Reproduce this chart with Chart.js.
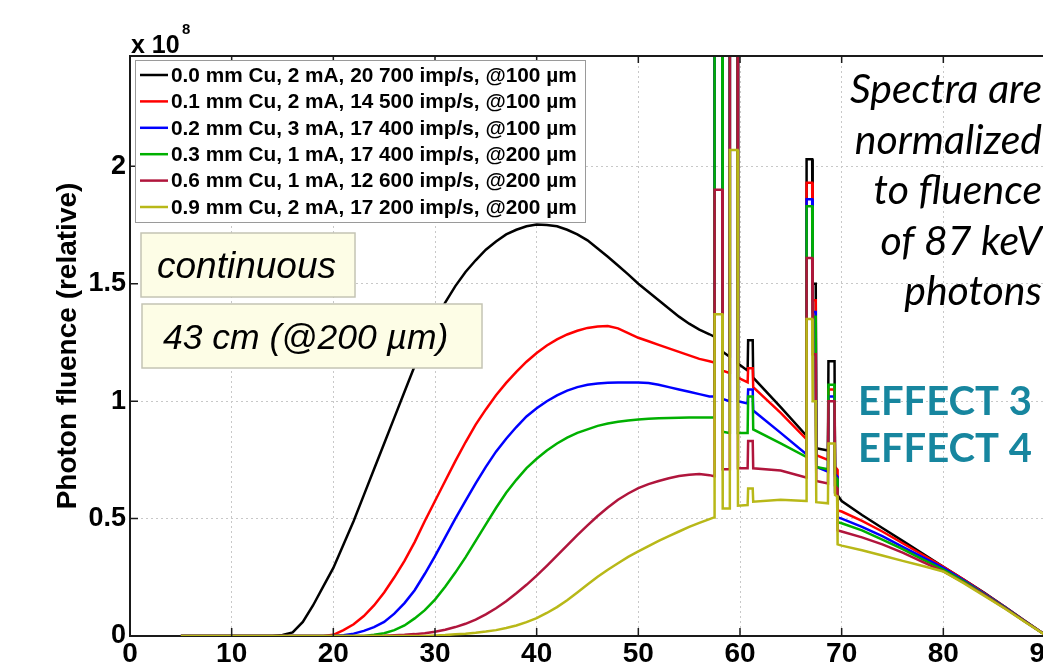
<!DOCTYPE html>
<html>
<head>
<meta charset="utf-8">
<title>Photon fluence spectra</title>
<script src="https://cdn.jsdelivr.net/npm/chart.js@4.4.1/dist/chart.umd.min.js"></script>
<style>
  html, body { margin: 0; padding: 0; background: #fff; overflow: hidden; }
  #wrap { position: absolute; left: 0; top: 0; width: 1100px; height: 665px; }
</style>
</head>
<body>
<div id="wrap"><canvas id="spectra" width="1100" height="665"></canvas></div>
<script>
// photon energy (keV), shared by all spectra
const energy = [5, 10, 14, 15, 16, 17, 18, 19, 20, 21, 22, 23, 24, 25, 26, 27, 28, 29,
  30, 31, 32, 33, 34, 35, 36, 37, 38, 39, 40, 41, 42, 43, 44, 45, 46, 47, 48, 49,
  50, 51, 52, 53, 54, 55, 56, 57,
  57.45, 57.5, 58.25, 58.3, 58.95, 59, 59.75, 59.8, 60.75, 60.8, 61.25, 61.3, 64, 66.5,
  66.55, 67.1, 67.15, 67.45, 67.5, 68.65, 68.7, 69.3, 69.35, 69.55, 69.6,
  70, 72, 74, 76, 78, 80, 82, 84, 86, 88, 90];

// relative photon fluence (x 1e8)
const cu00 = [0, 0, 0, 0.004, 0.015, 0.06, 0.13, 0.21, 0.29, 0.39, 0.49, 0.60, 0.71, 0.82, 0.93, 1.04, 1.15, 1.25,
  1.34, 1.42, 1.49, 1.55, 1.60, 1.645, 1.68, 1.71, 1.73, 1.745, 1.752, 1.75, 1.745, 1.73, 1.71, 1.685, 1.65, 1.615, 1.578, 1.54,
  1.50, 1.465, 1.43, 1.395, 1.36, 1.33, 1.305, 1.285,
  1.275, 2.7, 2.7, 1.21, 1.19, 2.7, 2.7, 1.16, 1.13, 1.26, 1.26, 1.10, 0.975, 0.855,
  2.03, 2.03, 1.5, 1.5, 0.80, 0.79, 1.17, 1.17, 0.61, 0.605, 0.60,
  0.575, 0.515, 0.46, 0.405, 0.35, 0.295, 0.24, 0.185, 0.125, 0.065, 0.005];
const cu01 = [0, 0, 0, 0, 0, 0, 0, 0, 0.005, 0.025, 0.05, 0.085, 0.13, 0.185, 0.25, 0.32, 0.40, 0.49,
  0.575, 0.66, 0.745, 0.825, 0.90, 0.965, 1.025, 1.078, 1.125, 1.168, 1.205, 1.237, 1.263, 1.284, 1.30, 1.312, 1.318, 1.32, 1.31, 1.29,
  1.27, 1.255, 1.24, 1.225, 1.21, 1.195, 1.18, 1.17,
  1.165, 2.7, 2.7, 1.13, 1.12, 2.7, 2.7, 1.10, 1.08, 1.14, 1.14, 1.06, 0.95, 0.84,
  1.93, 1.93, 1.43, 1.43, 0.77, 0.75, 1.05, 1.05, 0.72, 0.71, 0.535,
  0.53, 0.49, 0.445, 0.395, 0.345, 0.295, 0.24, 0.183, 0.125, 0.065, 0.005];
const cu02 = [0, 0, 0, 0, 0, 0, 0, 0, 0, 0.003, 0.01, 0.022, 0.038, 0.06, 0.095, 0.14, 0.195, 0.265,
  0.34, 0.42, 0.50, 0.575, 0.65, 0.72, 0.785, 0.84, 0.89, 0.935, 0.97, 1.0, 1.025, 1.045, 1.06, 1.07, 1.075, 1.078, 1.08, 1.08,
  1.08, 1.077, 1.07, 1.06, 1.05, 1.04, 1.03, 1.02,
  1.02, 2.7, 2.7, 1.01, 1.0, 2.7, 2.7, 1.0, 0.99, 1.05, 1.05, 0.96, 0.865, 0.775,
  1.86, 1.86, 1.38, 1.38, 0.72, 0.70, 1.02, 1.02, 0.69, 0.68, 0.505,
  0.50, 0.465, 0.425, 0.38, 0.335, 0.29, 0.237, 0.181, 0.124, 0.064, 0.005];
const cu03 = [0, 0, 0, 0, 0, 0, 0, 0, 0, 0, 0, 0, 0.005, 0.012, 0.025, 0.045, 0.075, 0.11,
  0.155, 0.21, 0.27, 0.335, 0.405, 0.475, 0.545, 0.61, 0.665, 0.715, 0.755, 0.79, 0.82, 0.845, 0.865, 0.88, 0.895, 0.905, 0.912, 0.918,
  0.922, 0.925, 0.927, 0.928, 0.929, 0.93, 0.93, 0.93,
  0.93, 2.7, 2.7, 0.87, 0.865, 2.7, 2.7, 0.865, 0.865, 1.02, 1.02, 0.88, 0.82, 0.763,
  1.83, 1.83, 1.36, 1.36, 0.72, 0.71, 1.07, 1.07, 0.68, 0.67, 0.485,
  0.48, 0.45, 0.41, 0.37, 0.325, 0.283, 0.233, 0.178, 0.122, 0.063, 0.005];
const cu06 = [0, 0, 0, 0, 0, 0, 0, 0, 0, 0, 0, 0, 0, 0.001, 0.003, 0.005, 0.008, 0.012,
  0.018, 0.027, 0.038, 0.052, 0.07, 0.092, 0.118, 0.148, 0.182, 0.218, 0.257, 0.299, 0.342, 0.386, 0.43, 0.471, 0.511, 0.547, 0.58, 0.607,
  0.63, 0.647, 0.66, 0.672, 0.681, 0.687, 0.69, 0.685,
  0.68, 1.9, 1.9, 0.71, 0.71, 2.7, 2.7, 0.714, 0.714, 0.83, 0.83, 0.714, 0.705, 0.675,
  1.61, 1.61, 1.2, 1.2, 0.66, 0.65, 1.0, 1.0, 0.64, 0.63, 0.45,
  0.445, 0.42, 0.39, 0.355, 0.315, 0.275, 0.228, 0.175, 0.12, 0.062, 0.005];
const cu09 = [0, 0, 0, 0, 0, 0, 0, 0, 0, 0, 0, 0, 0, 0, 0, 0, 0, 0,
  0.002, 0.004, 0.007, 0.01, 0.014, 0.019, 0.025, 0.034, 0.045, 0.059, 0.076, 0.098, 0.123, 0.152, 0.185, 0.219, 0.252, 0.282, 0.31, 0.337,
  0.36, 0.383, 0.405, 0.425, 0.445, 0.465, 0.482, 0.498,
  0.505, 1.37, 1.37, 0.543, 0.543, 2.07, 2.07, 0.555, 0.558, 0.628, 0.628, 0.572, 0.58, 0.575,
  1.35, 1.35, 1.0, 1.0, 0.57, 0.565, 0.82, 0.82, 0.6, 0.595, 0.39,
  0.385, 0.365, 0.343, 0.32, 0.298, 0.275, 0.225, 0.172, 0.118, 0.061, 0.005];

const seriesLabels = [
  '0.0 mm Cu, 2 mA, 20 700 imp/s, @100 \u00b5m',
  '0.1 mm Cu, 2 mA, 14 500 imp/s, @100 \u00b5m',
  '0.2 mm Cu, 3 mA, 17 400 imp/s, @100 \u00b5m',
  '0.3 mm Cu, 1 mA, 17 400 imp/s, @200 \u00b5m',
  '0.6 mm Cu, 1 mA, 12 600 imp/s, @200 \u00b5m',
  '0.9 mm Cu, 2 mA, 17 200 imp/s, @200 \u00b5m'
];
const seriesValues = [cu00, cu01, cu02, cu03, cu06, cu09];
const seriesColors = ['#000000', '#ff0000', '#0000ff', '#00b000', '#b0153c', '#b8b818'];

const xTicks = [0, 10, 20, 30, 40, 50, 60, 70, 80, 90];
const yTicks = [0, 0.5, 1, 1.5, 2];

const sans = '"Liberation Sans", Arial, sans-serif';

const overlay = {
  id: 'overlay',
  afterDraw(chart) {
    const { ctx, chartArea: a, scales: { x, y } } = chart;
    ctx.save();

    // box and inward ticks
    ctx.strokeStyle = '#1a1a1a';
    ctx.lineWidth = 2;
    ctx.beginPath();
    ctx.moveTo(a.left, a.top);
    ctx.lineTo(a.right, a.top);
    ctx.lineTo(a.right, a.bottom);
    ctx.stroke();
    ctx.lineWidth = 1.5;
    ctx.beginPath();
    x.ticks.forEach(t => {
      const px = x.getPixelForValue(t.value);
      ctx.moveTo(px, a.bottom); ctx.lineTo(px, a.bottom - 8);
      ctx.moveTo(px, a.top); ctx.lineTo(px, a.top + 7);
    });
    y.ticks.forEach(t => {
      const py = y.getPixelForValue(t.value);
      ctx.moveTo(a.left, py); ctx.lineTo(a.left + 8, py);
    });
    ctx.stroke();

    // exponent label
    ctx.fillStyle = '#000';
    ctx.textBaseline = 'alphabetic';
    ctx.textAlign = 'left';
    ctx.font = 'bold 25px ' + sans;
    ctx.fillText('x 10', 131, 53);
    ctx.font = 'bold 15px ' + sans;
    ctx.fillText('8', 182, 34);

    // legend
    ctx.fillStyle = '#fff';
    ctx.fillRect(135, 60, 450, 162);
    ctx.strokeStyle = '#9a9a9a';
    ctx.lineWidth = 1;
    ctx.strokeRect(135.5, 60.5, 450, 162);
    ctx.font = 'bold 20.8px ' + sans;
    ctx.textBaseline = 'middle';
    chart.data.datasets.forEach((ds, i) => {
      const ly = 75 + i * 26.4;
      ctx.strokeStyle = ds.borderColor;
      ctx.lineWidth = 2.5;
      ctx.beginPath();
      ctx.moveTo(140, ly); ctx.lineTo(168, ly);
      ctx.stroke();
      ctx.fillStyle = '#000';
      ctx.fillText(ds.label, 171, ly + 1);
    });

    // note boxes
    ctx.textBaseline = 'alphabetic';
    ctx.fillStyle = '#fdfde6';
    ctx.strokeStyle = '#c4c4b4';
    ctx.lineWidth = 1.5;
    ctx.fillRect(141, 233, 214, 64);
    ctx.strokeRect(141, 233, 214, 64);
    ctx.fillRect(142, 304, 340, 64);
    ctx.strokeRect(142, 304, 340, 64);
    ctx.fillStyle = '#000';
    ctx.font = 'italic 37px ' + sans;
    ctx.fillText('continuous', 157, 278);
    ctx.font = 'italic 35.5px ' + sans;
    ctx.fillText('43 cm (@200 \u00b5m)', 163, 349);

    // right side notes
    ctx.textAlign = 'right';
    ctx.font = 'italic 41px Lato, "Open Sans", sans-serif';
    ['Spectra are', 'normalized', 'to fluence', 'of 87 keV', 'photons'].forEach((s, i) => {
      ctx.fillText(s, 1042, 103 + i * 50.5);
    });
    ctx.fillStyle = '#17869f';
    ctx.font = 'bold 40px Lato, "Open Sans", sans-serif';
    ctx.fillText('EFFECT 3', 1032, 415);
    ctx.fillText('EFFECT 4', 1032, 462);

    ctx.restore();
  }
};

new Chart(document.getElementById('spectra'), {
  type: 'line',
  data: {
    datasets: seriesValues.map((vals, i) => ({
      label: seriesLabels[i],
      data: energy.map((e, k) => ({ x: e, y: vals[k] })),
      borderColor: seriesColors[i],
      backgroundColor: seriesColors[i],
      borderWidth: 2.5,
      pointRadius: 0,
      tension: 0,
      fill: false,
      order: seriesValues.length - i
    }))
  },
  options: {
    responsive: false,
    animation: false,
    devicePixelRatio: 1,
    layout: { padding: { left: 0, top: 56, right: 55, bottom: 0 } },
    plugins: { legend: { display: false }, tooltip: { enabled: false } },
    scales: {
      x: {
        type: 'linear',
        min: 0,
        max: 90,
        afterBuildTicks: s => { s.ticks = xTicks.map(v => ({ value: v })); },
        afterFit: s => { s.height = 29; },
        grid: { color: '#c8c8c8', lineWidth: 1, drawTicks: false },
        border: { color: '#1a1a1a', width: 2, dash: [2, 3] },
        ticks: {
          padding: 1,
          color: '#000',
          maxRotation: 0,
          autoSkip: false,
          font: { family: sans, size: 28, weight: 'bold' },
          callback: v => String(v)
        }
      },
      y: {
        min: 0,
        max: 2.47,
        afterBuildTicks: s => { s.ticks = yTicks.map(v => ({ value: v })); },
        afterFit: s => { s.width = 130; },
        grid: { color: '#c8c8c8', lineWidth: 1, drawTicks: false },
        border: { color: '#1a1a1a', width: 2, dash: [2, 3] },
        ticks: {
          padding: 4,
          color: '#000',
          font: { family: sans, size: 27, weight: 'bold' },
          callback: v => String(v)
        },
        title: {
          display: true,
          text: 'Photon fluence (relative)',
          color: '#000',
          font: { family: sans, size: 28, weight: 'bold' },
          padding: { top: 51, bottom: 0 }
        }
      }
    }
  },
  plugins: [overlay]
});
</script>
</body>
</html>
